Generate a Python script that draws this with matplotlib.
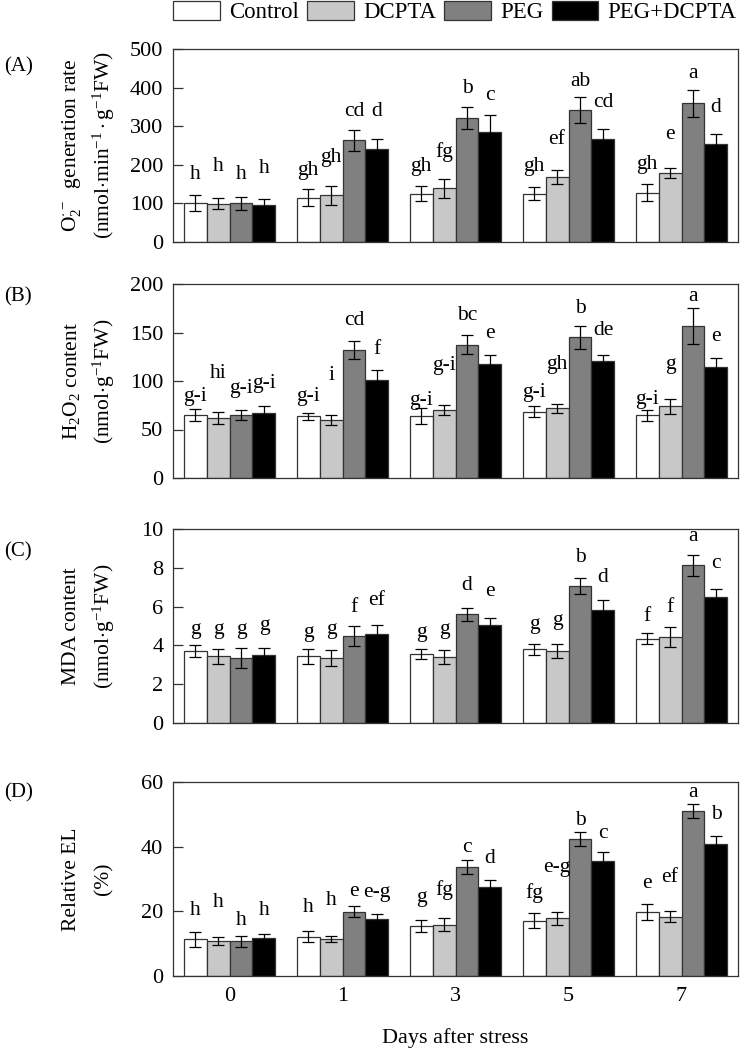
import numpy as np
import matplotlib
matplotlib.use("Agg")
import matplotlib.pyplot as plt
from matplotlib.patches import Patch

plt.rcParams['font.family'] = ['Liberation Serif', 'DejaVu Serif']
plt.rcParams['mathtext.fontset'] = 'custom'
plt.rcParams['mathtext.rm'] = 'Liberation Serif'
plt.rcParams['mathtext.it'] = 'Liberation Serif:italic'

# --- data ---
days = ["0", "1", "3", "5", "7"]
treatments = ["Control", "DCPTA", "PEG", "PEG+DCPTA"]

# (A) O2- generation rate
o2_mean = [[101, 115, 125, 125, 128],
           [99, 121, 139, 169, 180],
           [100, 263, 322, 341, 360],
           [97, 242, 286, 266, 253]]
o2_err = [[21, 22, 19, 17, 21],
          [14, 25, 24, 18, 13],
          [16, 26, 29, 34, 35],
          [15, 25, 42, 26, 27]]
o2_letters = [["h", "gh", "gh", "gh", "gh"],
              ["h", "gh", "fg", "ef", "e"],
              ["h", "cd", "b", "ab", "a"],
              ["h", "d", "c", "cd", "d"]]

# (B) H2O2 content
h2o2_mean = [[64.8, 63.5, 63.5, 68.3, 64.8],
             [62, 59.7, 70, 71.7, 73.8],
             [65, 132, 137.6, 145, 157],
             [66.5, 101, 118, 120.8, 114]]
h2o2_err = [[6.3, 3.5, 8.2, 5.5, 5.8],
            [6, 4.8, 5.5, 4.8, 7.5],
            [5.5, 9.6, 10, 12, 18.6],
            [7.5, 10.6, 9.3, 5.5, 10]]
h2o2_letters = [["g-i", "g-i", "g-i", "g-i", "g-i"],
                ["hi", "i", "g-i", "gh", "g"],
                ["g-i", "cd", "bc", "b", "a"],
                ["g-i", "f", "e", "de", "e"]]

# (C) MDA content
mda_mean = [[3.70, 3.44, 3.55, 3.79, 4.34],
            [3.44, 3.34, 3.39, 3.70, 4.42],
            [3.36, 4.47, 5.61, 7.07, 8.12],
            [3.49, 4.61, 5.04, 5.85, 6.51]]
mda_err = [[0.31, 0.38, 0.27, 0.27, 0.29],
           [0.38, 0.40, 0.36, 0.36, 0.52],
           [0.52, 0.52, 0.33, 0.43, 0.54],
           [0.40, 0.43, 0.38, 0.47, 0.38]]
mda_letters = [["g", "g", "g", "g", "f"],
               ["g", "g", "g", "g", "f"],
               ["g", "f", "d", "b", "a"],
               ["g", "ef", "e", "d", "c"]]

# (D) Relative EL
el_mean = [[11.4, 12.2, 15.4, 17.1, 19.7],
           [10.8, 11.4, 15.9, 17.8, 18.4],
           [10.8, 19.9, 33.7, 42.3, 51.1],
           [11.6, 17.6, 27.5, 35.5, 40.9]]
el_err = [[2.3, 1.8, 1.9, 2.3, 2.5],
          [1.3, 1.0, 2.0, 1.9, 1.7],
          [1.7, 1.6, 2.2, 2.2, 2.1],
          [1.4, 1.7, 2.3, 2.8, 2.4]]
el_letters = [["h", "h", "g", "fg", "e"],
              ["h", "h", "fg", "e-g", "ef"],
              ["h", "e", "c", "b", "a"],
              ["h", "e-g", "d", "c", "b"]]

# --- letter placement (baseline heights, data units) ---
o2_lab_y = [[162, 173, 184, 184, 190],
            [184, 208, 219, 255, 266],
            [162, 326, 385, 404, 424],
            [180, 326, 369, 350, 337]]
h2o2_lab_y = [[79, 79, 75, 84, 76],
              [103, 101, 111.5, 112.5, 112.5],
              [87.5, 158, 163, 170, 182],
              [92.6, 127.6, 144, 147.5, 141]]
mda_lab_y = [[4.61, 4.44, 4.44, 4.87, 5.25],
             [4.61, 4.61, 4.61, 5.04, 5.73],
             [4.61, 5.73, 6.85, 8.31, 9.38],
             [4.78, 6.08, 6.56, 7.28, 7.97]]
el_lab_y = [[18.8, 19.7, 23, 24, 27.1],
            [21.4, 21.9, 25, 32.3, 29.2],
            [15.7, 24.8, 38.5, 46.8, 55.5],
            [18.8, 24.5, 34.9, 42.6, 48.5]]

colors = ["white", "#c8c8c8", "#808080", "black"]
edge = "#333333"
bar_w = 0.2035

panels = [
    ("(A)", o2_mean, o2_err, o2_letters, o2_lab_y, 500, 100,
     r"O$_2^{\cdot-}$  generation rate", r"(nmol$\cdot$min$^{-1}\cdot$g$^{-1}$FW)"),
    ("(B)", h2o2_mean, h2o2_err, h2o2_letters, h2o2_lab_y, 200, 50,
     r"H$_2$O$_2$ content", r"(nmol$\cdot$g$^{-1}$FW)"),
    ("(C)", mda_mean, mda_err, mda_letters, mda_lab_y, 10, 2,
     "MDA content", r"(nmol$\cdot$g$^{-1}$FW)"),
    ("(D)", el_mean, el_err, el_letters, el_lab_y, 60, 20,
     "Relative EL", "(%)"),
]

W, H = 740, 1049
fig = plt.figure(figsize=(W / 100, H / 100), dpi=100)

ax_left = 173 / W
ax_width = (738 - 173) / W
tops = [49, 284, 529, 782]
bottoms = [242, 478, 723, 976]
panel_lab_y = [67, 297, 552, 793]

x = np.arange(len(days))
for i, (tag, mean, err, letters, lab_y, ymax, ystep, yl1, yl2) in enumerate(panels):
    y0 = 1 - bottoms[i] / H
    h = (bottoms[i] - tops[i]) / H
    ax = fig.add_axes([ax_left, y0, ax_width, h])
    for k in range(4):
        xs = x + (k - 1.5) * bar_w
        ax.bar(xs, mean[k], width=bar_w, color=colors[k], edgecolor=edge, linewidth=0.9, zorder=2)
        ax.errorbar(xs, mean[k], yerr=err[k], fmt="none", ecolor="black",
                    elinewidth=0.9, capsize=4, capthick=0.9, zorder=3)
        for j in range(len(days)):
            ax.text(xs[j], lab_y[k][j], letters[k][j], ha="center", va="baseline",
                    fontsize=15.5, zorder=4)
    ax.set_xlim(-0.5, len(days) - 0.5)
    ax.set_ylim(0, ymax)
    ax.set_yticks(np.arange(0, ymax + ystep / 2, ystep))
    ax.tick_params(axis="y", direction="in", length=7, width=0.9, labelsize=16, pad=7, color=edge)
    ax.tick_params(axis="x", length=0, labelsize=16, pad=8)
    ax.set_xticks(x)
    if i == len(panels) - 1:
        ax.set_xticklabels(days)
    else:
        ax.set_xticklabels([])
    for s in ax.spines.values():
        s.set_color(edge)
        s.set_linewidth(0.9)

    yc = y0 + h / 2
    fig.text(0.097, yc, yl1, rotation=90, ha="center", va="center", fontsize=15.5)
    fig.text(0.140, yc, yl2, rotation=90, ha="center", va="center", fontsize=15.5)
    fig.text(0.005, 1 - panel_lab_y[i] / H, tag, ha="left", va="center", fontsize=15)

fig.text((173 + 738) / 2 / W, 1 - 1038 / H, "Days after stress", ha="center", va="center", fontsize=16)

handles = [Patch(facecolor=c, edgecolor=edge, linewidth=0.9) for c in colors]
fig.legend(handles, treatments, loc="upper left", bbox_to_anchor=(173 / W, 0.999),
           ncol=4, frameon=False, fontsize=16.5, borderpad=0, borderaxespad=0,
           handlelength=2.05, handleheight=0.9, handletextpad=0.4, columnspacing=0.35)

fig.savefig("out.png", dpi=100)
